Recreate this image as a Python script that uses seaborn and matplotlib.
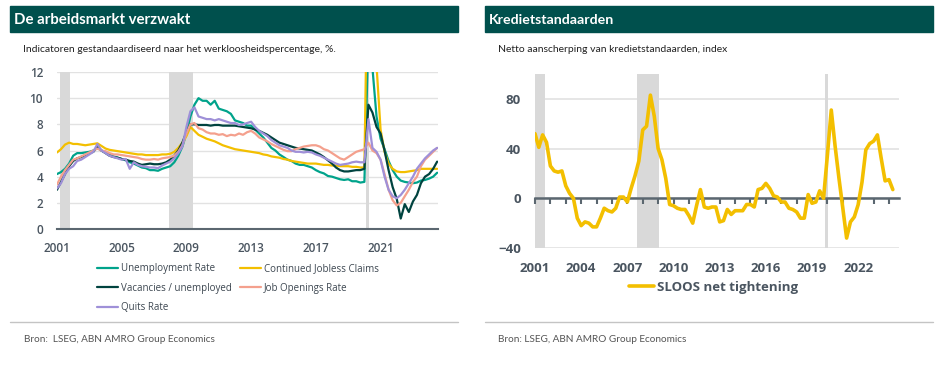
import pandas as pd
import seaborn as sns
import matplotlib.pyplot as plt
from matplotlib.patches import Rectangle
from matplotlib.lines import Line2D

# ---- data ----
series_names = ["Unemployment Rate", "Continued Jobless Claims", "Vacancies / unemployed",
                "Job Openings Rate", "Quits Rate"]

# quarterly, 2001Q1 .. 2024Q3
unemployment = [4.2, 4.35, 4.6, 5.0,  5.6, 5.8, 5.8, 5.85,  5.9, 6.0, 6.2, 6.0,  5.85, 5.7, 5.55, 5.45,
                5.35, 5.25, 5.1, 5.0,  4.85, 4.7, 4.65, 4.5,  4.5, 4.45, 4.6, 4.7,  4.8, 5.1, 5.6, 6.3,
                7.3, 8.6, 9.5, 10.0,  9.8, 9.8, 9.5, 9.8,  9.2, 9.1, 9.0, 8.8,  8.3, 8.2, 8.1, 7.9,
                7.9, 7.6, 7.3, 7.0,  6.6, 6.2, 6.0, 5.7,  5.5, 5.3, 5.2, 5.0,  4.9, 4.9, 4.8, 4.7,
                4.5, 4.35, 4.25, 4.05,  4.0, 3.9, 3.8, 3.75,  3.8, 3.65, 3.65, 3.55,  3.6, 14.7, 12.3, 8.6,
                6.9, 6.1, 5.2, 4.5,  4.0, 3.7, 3.6, 3.55,  3.5, 3.55, 3.7, 3.75,  3.85, 4.0, 4.3]
jobless_claims = [5.85, 6.1, 6.45, 6.6,  6.5, 6.5, 6.45, 6.4,  6.45, 6.5, 6.55, 6.35,  6.15, 6.05, 6.0, 5.95,
                  5.9, 5.85, 5.8, 5.75,  5.7, 5.7, 5.65, 5.65,  5.65, 5.65, 5.7, 5.7,  5.75, 5.9, 6.2, 6.6,
                  7.1, 7.8, 7.5, 7.2,  7.05, 6.9, 6.8, 6.7,  6.55, 6.4, 6.3, 6.2,  6.1, 6.05, 6.0, 5.95,
                  5.9, 5.85, 5.8, 5.7,  5.65, 5.55, 5.5, 5.45,  5.35, 5.3, 5.2, 5.15,  5.1, 5.05, 5.0, 5.0,
                  5.0, 4.95, 4.9, 4.9,  4.85, 4.85, 4.8, 4.8,  4.8, 4.75, 4.75, 4.7,  4.7, 25.0, 20.0, 12.5,
                  7.6, 5.9, 5.0, 4.6,  4.4, 4.35, 4.35, 4.4,  4.45, 4.5, 4.6, 4.6,  4.6, 4.6, 4.6]
vacancies = [3.0, 3.6, 4.2, 4.8,  5.2, 5.4, 5.5, 5.65,  5.8, 5.9, 6.3, 6.0,  5.8, 5.6, 5.5, 5.45,
             5.35, 5.3, 5.2, 5.15,  5.0, 4.9, 4.95, 5.0,  4.95, 4.95, 5.0, 5.1,  5.3, 5.6, 6.0, 6.6,
             7.4, 8.0, 8.0, 7.95,  7.95, 7.95, 7.9, 7.95,  7.95, 7.9, 7.9, 7.9,  7.9, 7.85, 7.8, 7.75,
             7.7, 7.6, 7.5, 7.35,  7.2, 7.0, 6.8, 6.6,  6.5, 6.4, 6.3, 6.2,  6.15, 6.1, 6.05, 6.0,
             5.85, 5.7, 5.5, 5.25,  5.0, 4.7, 4.5, 4.4,  4.4, 4.45, 4.5, 4.5,  4.6, 9.5, 8.9, 7.8,
             7.3, 6.0, 4.5, 3.2,  2.3, 0.8, 1.9, 1.3,  2.1, 2.6, 3.5, 4.0,  4.2, 4.6, 5.15]
job_openings = [3.4, 4.0, 4.5, 4.9,  5.3, 5.4, 5.55, 5.7,  5.85, 6.0, 6.15, 6.0,  5.95, 5.8, 5.7, 5.7,
                5.65, 5.6, 5.55, 5.5,  5.45, 5.35, 5.3, 5.3,  5.35, 5.3, 5.4, 5.45,  5.5, 5.6, 5.9, 6.4,
                7.3, 8.0, 8.1, 7.7,  7.6, 7.4, 7.3, 7.3,  7.2, 7.25, 7.1, 7.2,  7.15, 7.3, 7.2, 7.4,
                7.5, 7.3, 7.0, 6.85,  6.7, 6.5, 6.35, 6.2,  6.05, 5.95, 5.95, 6.1,  6.2, 6.3, 6.35, 6.4,
                6.4, 6.3, 6.1, 6.0,  5.8, 5.6, 5.4, 5.3,  5.5, 5.7, 5.9, 6.0,  6.1, 6.6, 6.0, 5.8,
                5.3, 4.2, 3.0, 2.2,  1.8, 2.0, 2.5, 3.0,  3.6, 4.0, 4.8, 5.3,  5.6, 5.9, 6.2]
quits = [3.1, 3.5, 4.2, 4.6,  4.8, 5.2, 5.3, 5.5,  5.7, 5.9, 6.5, 6.0,  5.8, 5.6, 5.5, 5.4,
         5.3, 5.35, 4.6, 5.1,  4.9, 4.8, 4.75, 4.7,  4.7, 4.65, 4.85, 5.0,  5.15, 5.4, 5.8, 6.3,
         7.8, 9.0, 9.3, 8.6,  8.5, 8.4, 8.4, 8.3,  8.4, 8.3, 8.2, 8.1,  8.1, 7.95, 8.0, 8.1,
         8.2, 7.8, 7.5, 7.3,  7.1, 6.8, 6.6, 6.4,  6.3, 6.2, 6.0, 5.9,  5.9, 5.85, 5.9, 5.85,
         5.7, 5.6, 5.45, 5.3,  5.15, 5.0, 4.9, 4.95,  5.0, 5.1, 5.15, 5.1,  5.1, 8.4, 6.2, 5.9,
         5.3, 4.0, 3.0, 2.5,  2.35, 2.6, 3.0, 3.5,  4.0, 4.6, 5.0, 5.4,  5.7, 6.0, 6.2]

# SLOOS net tightening, quarterly 2001Q1 .. 2024Q2
sloos = [52, 41, 51, 45, 26, 22, 21, 22, 10, 4,
         0, -16, -22, -19, -20, -23, -23, -16, -8, -10,
         -11, -8, 1, 1, -3, 8, 18, 30, 55, 58,
         83, 66, 40, 31, 16, -5, -6, -8, -9, -9,
         -14, -20, -6, 7, -7, -8, -7, -7, -19, -18,
         -9, -13, -10, -10, -10, -5, -5, -7, 7, 8,
         12, 8, 2, 1, -3, -3, -8, -9, -11, -16,
         -16, 3, -4, -3, 6, 0, 35, 71, 42, 16,
         -8, -32, -19, -15, -5, 13, 39, 44, 46, 51,
         32, 14, 15, 7]

recessions_left = [("2001-03-01", "2001-11-01"), ("2007-12-01", "2009-06-01"), ("2020-02-01", "2020-04-15")]
recessions_right = [("2001-01-01", "2001-08-15"), ("2007-08-20", "2009-02-01"), ("2019-11-05", "2020-01-25")]
left_years = [2001, 2005, 2009, 2013, 2017, 2021]
right_years = [2001, 2004, 2007, 2010, 2013, 2016, 2019, 2022]


def decimal_year(d):
    d = pd.to_datetime(d)
    return d.year + (d.dayofyear - 1) / 365.25


q_left = pd.date_range("2001-01-01", periods=len(unemployment), freq="QS")
q_right = pd.date_range("2001-01-01", periods=len(sloos), freq="QS")

df = pd.DataFrame({"x": decimal_year(q_left), series_names[0]: unemployment,
                   series_names[1]: jobless_claims, series_names[2]: vacancies,
                   series_names[3]: job_openings, series_names[4]: quits})
long = df.melt(id_vars="x", var_name="series", value_name="value")
df_r = pd.DataFrame({"x": decimal_year(q_right), "SLOOS net tightening": sloos})

# ---- style ----
HEADER = "#00504D"
AXIS = "#5B6770"
TICK = "#4A5560"
GRID = "#E2E2E2"
SHADE = "#D9D9D9"
YELLOW = "#F3BF00"
palette = {series_names[0]: "#00A38B", series_names[1]: YELLOW, series_names[2]: "#00433F",
           series_names[3]: "#F4A08D", series_names[4]: "#9F90D8"}

sns.set_style("white")
plt.rcParams['font.family'] = ['Open Sans', 'DejaVu Sans']

W, H = 940, 367
fig = plt.figure(figsize=(W / 100, H / 100), dpi=100)


def fx(px):
    return px / W


def fy(py):
    return 1 - py / H


# headers, subtitles, source lines
for x0, title, tsize, sub in [(10, "De arbeidsmarkt verzwakt", 10.8,
                               "Indicatoren gestandaardiseerd naar het werkloosheidspercentage, %."),
                              (485, "Kredietstandaarden", 10.2,
                               "Netto aanscherping van kredietstandaarden, index")]:
    fig.patches.append(Rectangle((fx(x0), fy(32)), 448 / W, 26 / H, transform=fig.transFigure,
                                 color=HEADER, zorder=0))
    fig.text(fx(x0 + 4), fy(19.5), title, color="white", fontsize=tsize, fontweight="bold",
             va="center", family=["Lato", "DejaVu Sans"])
    fig.text(fx(x0 + 13), fy(50), sub, color="#222222", fontsize=7.5, va="center",
             family=["Lato", "DejaVu Sans"])
    fig.add_artist(Line2D([fx(x0), fx(x0 + 448)], [fy(322), fy(322)], transform=fig.transFigure,
                          color="#C4C4C4", lw=1))
fig.text(fx(24), fy(339), "Bron:  LSEG, ABN AMRO Group Economics", color="#555555", fontsize=7.2,
         va="center", family=["Lato", "DejaVu Sans"])
fig.text(fx(498), fy(339), "Bron: LSEG, ABN AMRO Group Economics", color="#555555", fontsize=7.2,
         va="center", family=["Lato", "DejaVu Sans"])

# ---- left chart ----
axl = fig.add_axes([fx(57), fy(229), (438 - 57) / W, (229 - 72) / H])
for s, e in recessions_left:
    axl.axvspan(decimal_year(s), decimal_year(e), color=SHADE, lw=0, zorder=0.6)
sns.lineplot(data=long, x="x", y="value", hue="series", hue_order=series_names, palette=palette,
             linewidth=1.6, ax=axl, legend=True)
axl.set_xlim(2001.0, 2024.55)
axl.set_ylim(0, 12)
axl.set_yticks(range(0, 13, 2))
axl.set_xticks(left_years)
axl.set_xticklabels([str(y) for y in left_years])
axl.set_xlabel("")
axl.set_ylabel("")
axl.yaxis.grid(True, color=GRID, lw=1)
axl.set_axisbelow(True)
for side in ["top", "right", "left"]:
    axl.spines[side].set_visible(False)
axl.spines["bottom"].set_color(AXIS)
axl.spines["bottom"].set_linewidth(1.5)
axl.spines["bottom"].set_zorder(3)
axl.tick_params(axis="x", length=4, width=1.5, color=AXIS, pad=5, labelsize=8.5, labelcolor=TICK)
axl.tick_params(axis="y", length=0, pad=10, labelsize=8.5, labelcolor=TICK)
for lab in axl.get_xticklabels() + axl.get_yticklabels():
    lab.set_fontweight("semibold")

handles, labels = axl.get_legend_handles_labels()
axl.get_legend().remove()
order = [0, 2, 4, 1, 3]
fig.legend([handles[i] for i in order], [labels[i] for i in order], loc="upper left",
           bbox_to_anchor=(fx(97), fy(263)), ncol=2, frameon=False, fontsize=7,
           handlelength=2.2, handletextpad=0.3, columnspacing=0.8, labelspacing=0.88,
           borderpad=0, borderaxespad=0, labelcolor="#3C4650")

# ---- right chart ----
axr = fig.add_axes([fx(535), fy(248), (899 - 535) / W, (248 - 74) / H])
for s, e in recessions_right:
    axr.axvspan(decimal_year(s), decimal_year(e), color=SHADE, lw=0, zorder=0.6)
sns.lineplot(data=df_r, x="x", y="SLOOS net tightening", color=YELLOW, linewidth=2.6, ax=axr,
             label="SLOOS net tightening", zorder=3)
axr.set_xlim(2001.0, 2024.65)
axr.set_ylim(-40, 100)
axr.set_yticks([-40, 0, 40, 80])
axr.set_xticks(right_years)
axr.set_xticklabels([str(y) for y in right_years])
axr.set_xlabel("")
axr.set_ylabel("")
axr.yaxis.grid(True, color=GRID, lw=1.2)
axr.set_axisbelow(True)
for side in axr.spines:
    axr.spines[side].set_visible(False)
axr.tick_params(axis="x", length=0, pad=10, labelsize=9.5, labelcolor=TICK)
axr.tick_params(axis="y", length=0, pad=10, labelsize=9.5, labelcolor=TICK)
for lab in axr.get_xticklabels() + axr.get_yticklabels():
    lab.set_fontweight("bold")

zero = axr.secondary_xaxis(0, transform=axr.transData)
zero.set_zorder(2.5)
zero.set_xticks(range(2001, 2025))
zero.tick_params(length=4, width=1.5, color=AXIS, labelbottom=False)
zero.spines["bottom"].set_color(AXIS)
zero.spines["bottom"].set_linewidth(1.8)

axr.legend(loc="center left", bbox_to_anchor=(fx(629), fy(287)), bbox_transform=fig.transFigure,
           frameon=False, prop=dict(size=9.5, weight="bold"), handlelength=1.9, handletextpad=0.25,
           borderpad=0, borderaxespad=0, labelcolor=TICK)

fig.savefig("out.png", dpi=100)
